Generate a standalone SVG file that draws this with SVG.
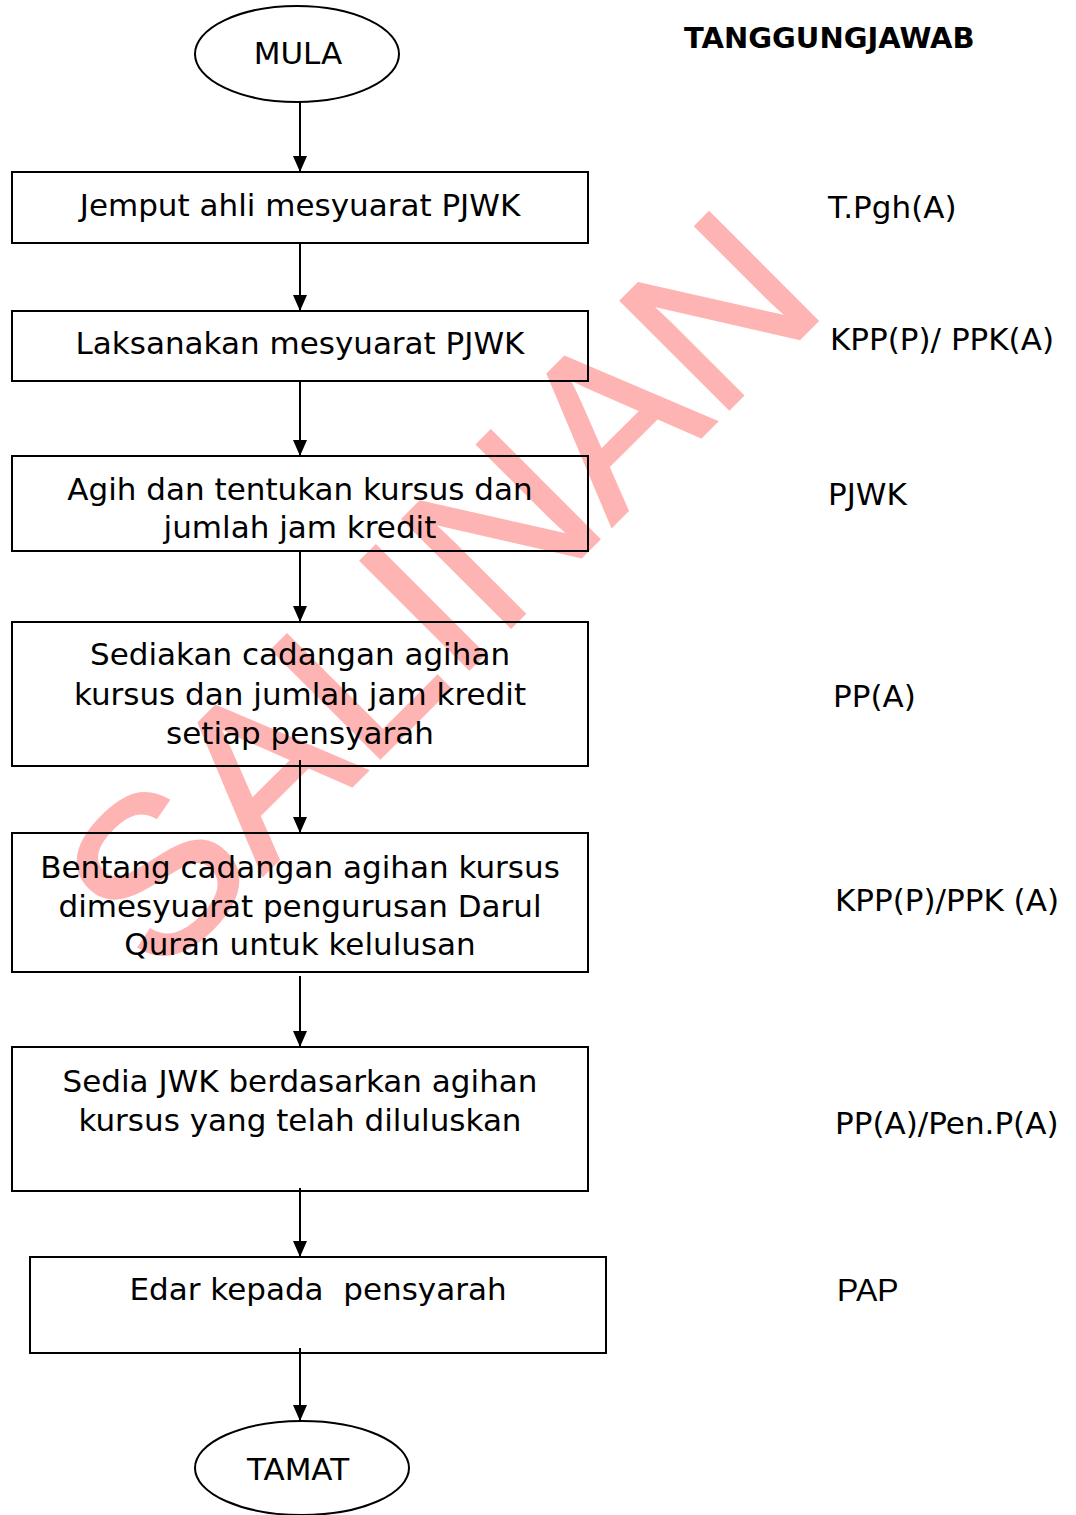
<svg xmlns="http://www.w3.org/2000/svg" width="1076" height="1515" viewBox="0 0 1076 1515">
  <style>
    .box { fill: none; stroke: #000; stroke-width: 2; }
    .t { font-family: "DejaVu Sans", "Liberation Sans", sans-serif; font-size: 31px; fill: #000; }
    .c { text-anchor: middle; }
    .hd { font-family: "DejaVu Sans", "Liberation Sans", sans-serif; font-weight: bold; font-size: 29px; fill: #000; }
    .pap { font-family: "Liberation Sans", Arial, sans-serif; font-size: 32px; fill: #000; }
    .conn { stroke: #000; stroke-width: 2; fill: none; marker-end: url(#arr); }
    .wm { font-family: "Liberation Sans", Arial, sans-serif; font-size: 222px; fill: #ffb4b4; stroke: #ffb4b4; stroke-width: 3; }
  </style>
  <defs>
    <marker id="arr" viewBox="0 0 16 14" refX="16" refY="7" markerWidth="16" markerHeight="14" markerUnits="userSpaceOnUse" orient="auto">
      <path d="M0,0 L16,7 L0,14 z" fill="#000"/>
    </marker>
  </defs>
  <rect width="1076" height="1515" fill="#fff"/>

  <g id="watermark">
    <text class="wm" transform="translate(158,980) rotate(-45)">SALINAN</text>
  </g>

  <g id="connectors">
    <line class="conn" x1="300" y1="102" x2="300" y2="172"/>
    <line class="conn" x1="300" y1="243" x2="300" y2="311"/>
    <line class="conn" x1="300" y1="381" x2="300" y2="456"/>
    <line class="conn" x1="300" y1="551" x2="300" y2="622"/>
    <line class="conn" x1="300" y1="760" x2="300" y2="833"/>
    <line class="conn" x1="300" y1="976" x2="300" y2="1047"/>
    <line class="conn" x1="300" y1="1188" x2="300" y2="1257"/>
    <line class="conn" x1="300" y1="1348" x2="300" y2="1421"/>
  </g>

  <g id="mula">
    <ellipse class="box" cx="297" cy="54" rx="102" ry="48"/>
    <text class="t c" x="298" y="64">MULA</text>
  </g>

  <g id="step1">
    <rect class="box" x="12" y="172" width="576" height="71"/>
    <text class="t c" x="300" y="216">Jemput ahli mesyuarat PJWK</text>
  </g>

  <g id="step2">
    <rect class="box" x="12" y="311" width="576" height="70"/>
    <text class="t c" x="300" y="354">Laksanakan mesyuarat PJWK</text>
  </g>

  <g id="step3">
    <rect class="box" x="12" y="456" width="576" height="95"/>
    <text class="t c" x="300" y="500">Agih dan tentukan kursus dan</text>
    <text class="t c" x="300" y="538">jumlah jam kredit</text>
  </g>

  <g id="step4">
    <rect class="box" x="12" y="622" width="576" height="144"/>
    <text class="t c" x="300" y="665">Sediakan cadangan agihan</text>
    <text class="t c" x="300" y="705">kursus dan jumlah jam kredit</text>
    <text class="t c" x="300" y="744">setiap pensyarah</text>
  </g>

  <g id="step5">
    <rect class="box" x="12" y="833" width="576" height="139"/>
    <text class="t c" x="300" y="878">Bentang cadangan agihan kursus</text>
    <text class="t c" x="300" y="917">dimesyuarat pengurusan Darul</text>
    <text class="t c" x="300" y="955">Quran untuk kelulusan</text>
  </g>

  <g id="step6">
    <rect class="box" x="12" y="1047" width="576" height="144"/>
    <text class="t c" x="300" y="1092">Sedia JWK berdasarkan agihan</text>
    <text class="t c" x="300" y="1131">kursus yang telah diluluskan</text>
  </g>

  <g id="step7">
    <rect class="box" x="30" y="1257" width="576" height="96"/>
    <text class="t c" x="318" y="1300" style="white-space:pre">Edar kepada  pensyarah</text>
  </g>

  <g id="tamat">
    <ellipse class="box" cx="302" cy="1468" rx="107" ry="47"/>
    <text class="t c" x="298" y="1480">TAMAT</text>
  </g>

  <g id="responsibility">
    <text class="hd" x="684" y="48">TANGGUNGJAWAB</text>
    <text class="t" x="828" y="218">T.Pgh(A)</text>
    <text class="t" x="830" y="350">KPP(P)/ PPK(A)</text>
    <text class="t" x="828" y="505">PJWK</text>
    <text class="t" x="833" y="707">PP(A)</text>
    <text class="t" x="835" y="911" style="white-space:pre">KPP(P)/PPK (A)</text>
    <text class="t" x="835" y="1134">PP(A)/Pen.P(A)</text>
    <text class="pap" x="837" y="1301">PAP</text>
  </g>
</svg>
